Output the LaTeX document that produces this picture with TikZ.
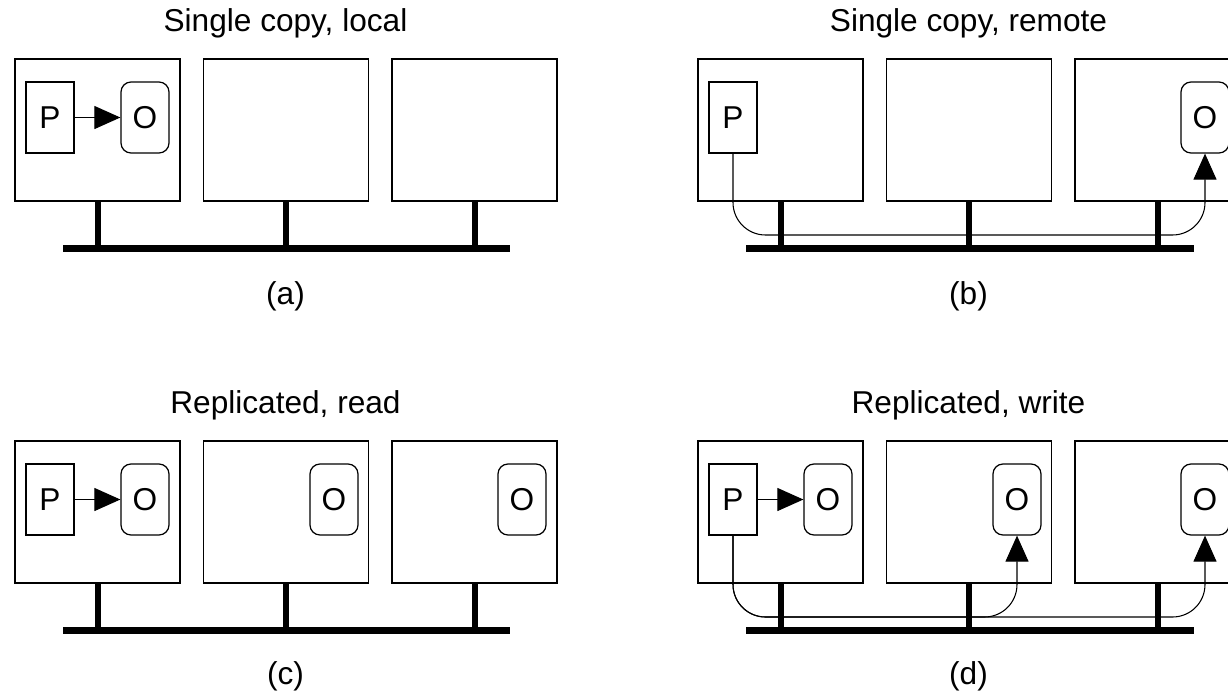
\documentclass[tikz,border=0pt]{standalone}
\usepackage{fontspec}
\setmainfont{Liberation Sans}
\usepackage{tikz}
\usetikzlibrary{arrows.meta}

\begin{document}
\begin{tikzpicture}[x=0.02cm, y=-0.02cm,
        machine/.style={draw, line width=0.7pt, minimum width=3.3cm, minimum height=2.84cm, inner sep=0pt},
        proc/.style={draw, line width=0.7pt, minimum width=0.96cm, minimum height=1.42cm, inner sep=0pt, font=\fontsize{18}{21}\selectfont},
        obj/.style={proc, rounded corners=0.2cm},
        bus/.style={line width=0.14cm},
        stem/.style={line width=0.12cm},
        msg/.style={-{Triangle[length=0.52cm, width=0.46cm]}, line width=0.6pt},
        route/.style={msg, rounded corners=0.65cm},
        title/.style={font=\fontsize{18}{21}\selectfont}]
        \clip (0,0) rectangle (1228,691);

        % (a) single copy, local
        \node[title] (ta) at (285.5,23) {Single copy, local};
        \node[machine] (a1) at (97.5,130) {};
        \node[machine] (a2) at (286,130) {};
        \node[machine] (a3) at (474.5,130) {};
        \node[proc] (aP) at (50,117.5) {P};
        \node[obj]  (aO) at (145,117.5) {O};
        \draw[msg] (aP) -- (aO);
        \coordinate (abusL) at (63,248);
        \coordinate (abusR) at (510,248);
        \draw[bus] (abusL) -- (abusR);
        \draw[stem] (a1.south) -- (a1.south |- abusL);
        \draw[stem] (a2.south) -- (a2.south |- abusL);
        \draw[stem] (a3.south) -- (a3.south |- abusL);
        \node[title] (la) at (285.5,296) {(a)};

        % (b) single copy, remote
        \begin{scope}[shift={(683,0)}]
          \node[title] (tb) at (285.5,23) {Single copy, remote};
          \node[machine] (b1) at (97.5,130) {};
          \node[machine] (b2) at (286,130) {};
          \node[machine] (b3) at (474.5,130) {};
          \node[proc] (bP) at (50,117.5) {P};
          \node[obj]  (bO) at (522,117.5) {O};
          \coordinate (bbusL) at (63,248);
          \coordinate (bbusR) at (511,248);
          \coordinate (bmsg) at (286,235);
          \draw[bus] (bbusL) -- (bbusR);
          \draw[stem] (b1.south) -- (b1.south |- bbusL);
          \draw[stem] (b2.south) -- (b2.south |- bbusL);
          \draw[stem] (b3.south) -- (b3.south |- bbusL);
          \draw[route] (bP.south) |- (bmsg) -| (bO.south);
          \node[title] (lb) at (285.5,296) {(b)};
        \end{scope}

        % (c) replicated, read
        \begin{scope}[shift={(0,382)}]
          \node[title] (tc) at (285.5,23) {Replicated, read};
          \node[machine] (c1) at (97.5,130) {};
          \node[machine] (c2) at (286,130) {};
          \node[machine] (c3) at (474.5,130) {};
          \node[proc] (cP) at (50,117.5) {P};
          \node[obj]  (cO1) at (145,117.5) {O};
          \node[obj]  (cO2) at (334,117.5) {O};
          \node[obj]  (cO3) at (522,117.5) {O};
          \draw[msg] (cP) -- (cO1);
          \coordinate (cbusL) at (63,248);
          \coordinate (cbusR) at (510,248);
          \draw[bus] (cbusL) -- (cbusR);
          \draw[stem] (c1.south) -- (c1.south |- cbusL);
          \draw[stem] (c2.south) -- (c2.south |- cbusL);
          \draw[stem] (c3.south) -- (c3.south |- cbusL);
          \node[title] (lc) at (285.5,294) {(c)};
        \end{scope}

        % (d) replicated, write
        \begin{scope}[shift={(683,382)}]
          \node[title] (td) at (285.5,23) {Replicated, write};
          \node[machine] (d1) at (97.5,130) {};
          \node[machine] (d2) at (286,130) {};
          \node[machine] (d3) at (474.5,130) {};
          \node[proc] (dP) at (50,117.5) {P};
          \node[obj]  (dO1) at (145,117.5) {O};
          \node[obj]  (dO2) at (334,117.5) {O};
          \node[obj]  (dO3) at (522,117.5) {O};
          \draw[msg] (dP) -- (dO1);
          \coordinate (dbusL) at (63,248);
          \coordinate (dbusR) at (511,248);
          \coordinate (dmsg) at (200,235);
          \draw[bus] (dbusL) -- (dbusR);
          \draw[stem] (d1.south) -- (d1.south |- dbusL);
          \draw[stem] (d2.south) -- (d2.south |- dbusL);
          \draw[stem] (d3.south) -- (d3.south |- dbusL);
          \draw[route] (dP.south) |- (dmsg) -| (dO2.south);
          \draw[route] (dP.south) |- (dmsg) -| (dO3.south);
          \node[title] (ld) at (285.5,294) {(d)};
        \end{scope}
      \end{tikzpicture}
\end{document}
